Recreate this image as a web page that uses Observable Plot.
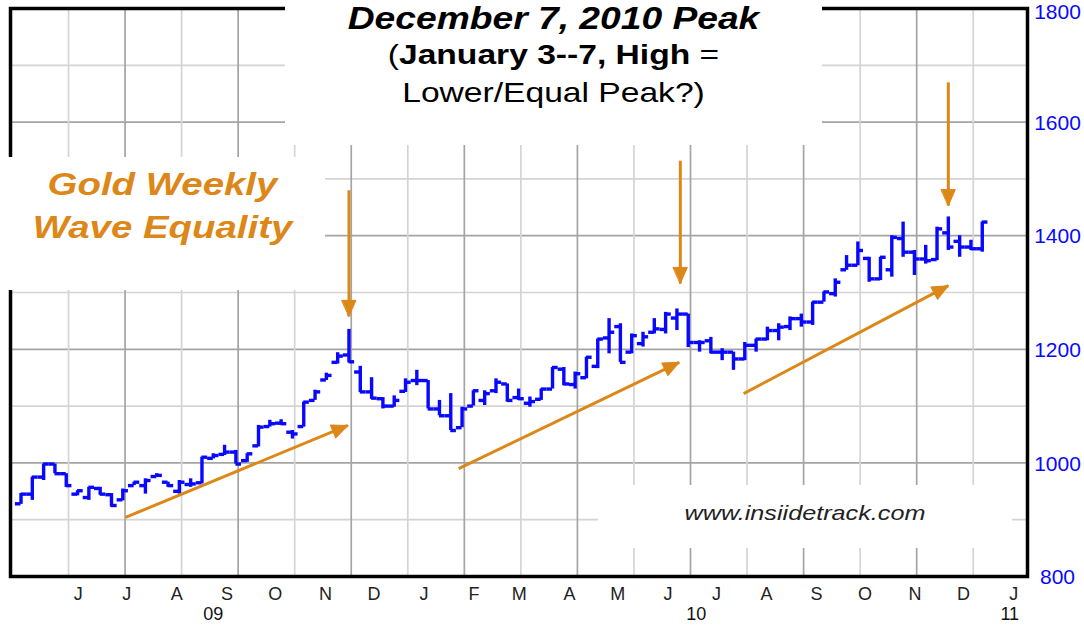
<!DOCTYPE html>
<html><head><meta charset="utf-8">
<script src="https://cdn.jsdelivr.net/npm/d3@7"></script>
<script src="https://cdn.jsdelivr.net/npm/@observablehq/plot@0.6"></script>
<style>
html,body{margin:0;padding:0;background:#fff;}
#wrap{position:relative;width:1084px;height:628px;overflow:hidden;font-family:"Liberation Sans",Arial,sans-serif;}
.box{position:absolute;background:#fff;}
.line{position:absolute;left:0;right:0;text-align:center;white-space:nowrap;line-height:1;transform:scaleX(1.2);transform-origin:50% 50%;}
</style></head><body><div id="wrap"></div>
<script>
// ---- data (weekly gold bars, week starting Monday) ----
const startWeek = "2009-05-04";
const opens = [928,945,975,998,981,945,939,955,944,935,
  960,960,976,966,950,962,965,1008,1015,1019,
  1004,1030,1064,1070,1054,1064,1110,1146,1177,1190,
  1160,1125,1113,1100,1126,1145,1145,1095,1083,1062,
  1100,1110,1127,1139,1115,1105,1112,1130,1165,1138,
  1150,1170,1220,1240,1195,1210,1230,1235,1255,1262,
  1212,1215,1195,1195,1183,1207,1218,1233,1240,1254,
  1248,1283,1298,1340,1348,1360,1324,1340,1395,1371,
  1359,1358,1405,1390,1380,1377];
const highs = [946,975,998,998,981,951,957,957,946,954,
  966,972,981,966,969,972,1010,1016,1031,1022,
  1016,1066,1075,1076,1057,1107,1128,1158,1194,1235,
  1170,1150,1115,1118,1148,1163,1145,1110,1122,1098,
  1127,1127,1148,1139,1130,1116,1130,1168,1168,1160,
  1186,1218,1254,1245,1227,1230,1254,1265,1271,1262,
  1215,1221,1201,1195,1212,1218,1239,1245,1257,1262,
  1283,1301,1324,1365,1389,1362,1362,1400,1424,1374,
  1383,1415,1433,1400,1392,1424];
const lows = [927,934,969,981,957,942,934,943,922,933,
  960,945,975,957,945,957,963,1007,1013,998,
  1001,1028,1063,1066,1042,1063,1110,1145,1174,1176,
  1124,1112,1095,1098,1124,1136,1095,1083,1057,1062,
  1100,1101,1122,1107,1110,1098,1110,1130,1136,1130,
  1148,1166,1192,1177,1192,1204,1227,1227,1233,1203,
  1195,1192,1180,1163,1180,1195,1215,1215,1233,1239,
  1242,1283,1292,1339,1347,1318,1321,1327,1362,1330,
  1350,1356,1374,1362,1374,1371];
const closes = [945,975,998,981,960,951,957,945,925,951,
  966,969,978,960,966,963,1010,1013,1019,998,
  1016,1063,1069,1069,1051,1107,1125,1154,1188,1178,
  1125,1114,1100,1110,1142,1145,1095,1083,1057,1095,
  1127,1122,1142,1110,1113,1108,1130,1168,1139,1157,
  1186,1218,1230,1177,1224,1222,1236,1262,1262,1212,
  1212,1195,1195,1183,1207,1218,1233,1239,1254,1248,
  1283,1301,1318,1348,1374,1324,1362,1397,1371,1359,
  1356,1412,1380,1380,1377,1424];

const monthTicks = ["2009-06-01","2009-07-01","2009-08-01","2009-09-01","2009-10-01","2009-11-01","2009-12-01",
  "2010-01-01","2010-02-01","2010-03-01","2010-04-01","2010-05-01","2010-06-01","2010-07-01","2010-08-01",
  "2010-09-01","2010-10-01","2010-11-01","2010-12-01","2011-01-01"];
const monthLabels = ["J","J","A","S","O","N","D","J","F","M","A","M","J","J","A","S","O","N","D","J"];
const yearTicks = ["2009-08-31","2010-06-26","2011-01-06"];
const yearLabels = ["09","10","11"];
const priceTicks = [800,1000,1200,1400,1600,1800];
const gridPricesDark = [1000,1200,1400,1600];
const gridPricesLight = [900,1100,1300,1500,1700];
const gridWeeksDark = [9,19,29,39,49,59,69,79];
const gridWeeksLight = [4,14,24,34,44,54,64,74,84];

// annotation arrows (week index, price)
const arrowFromWeek  = [29, 58.3, 82, 9.24, 38.7, 63.9];
const arrowFromPrice = [1480, 1532, 1670, 904, 990, 1122];
const arrowToWeek    = [29, 58.3, 82, 28.9, 58.2, 82];
const arrowToPrice   = [1258, 1316, 1453, 1066, 1177, 1312];

// ---- build ----
const DAY = 864e5;
const t0 = Date.parse(startWeek + "T00:00:00Z");
const xOf = w => new Date(t0 + w * 7 * DAY);
const half = 3.5 * DAY;
const bars = opens.map((o, i) => ({date: xOf(i), open: o, high: highs[i], low: lows[i], close: closes[i]}));

const W = 1084, H = 628, mL = 10, mR = 57, mT = 8, mB = 52;
const xDomain = [xOf(-0.93), xOf(89.0)];
const yDomain = [800, 1800];
const xs = d3.scaleUtc(xDomain, [mL, W - mR]);
const ys = d3.scaleLinear(yDomain, [H - mB, mT]);

const arrows = arrowFromWeek.map((w, i) => {
  const a = {x1: xOf(w), y1: arrowFromPrice[i], x2: xOf(arrowToWeek[i]), y2: arrowToPrice[i]};
  const dx = xs(a.x2) - xs(a.x1), dy = ys(a.y2) - ys(a.y1);
  a.angle = Math.atan2(dx, -dy) * 180 / Math.PI;
  return a;
});

const blue = "#0808ff";
const orange = "#dc8718";
const dark = "#a4a4a4", light = "#d4d4d4";
const tri = {draw(ctx, l, r) { ctx.moveTo(0, -l); ctx.lineTo(-r, 0); ctx.lineTo(r, 0); ctx.closePath(); }};
const font = "Liberation Sans, Arial, sans-serif";
const topTick = priceTicks[priceTicks.length - 1];

const chart = Plot.plot({
  width: W, height: H, marginLeft: mL, marginRight: mR, marginTop: mT, marginBottom: mB,
  x: {type: "utc", domain: xDomain, axis: null},
  y: {domain: yDomain, axis: null},
  style: {background: "#fff"},
  marks: [
    Plot.ruleY(gridPricesLight, {y: d => d, stroke: light, strokeWidth: 1.7}),
    Plot.ruleY(gridPricesDark, {y: d => d, stroke: dark, strokeWidth: 1.7}),
    Plot.ruleX(gridWeeksLight, {x: w => xOf(w + 0.2), stroke: light, strokeWidth: 1.7}),
    Plot.ruleX(gridWeeksDark, {x: w => xOf(w + 0.2), stroke: dark, strokeWidth: 1.7}),
    Plot.frame({stroke: "#000", strokeWidth: 3.5}),
    Plot.ruleX(bars, {x: "date", y1: "low", y2: "high", stroke: blue, strokeWidth: 3.4}),
    Plot.ruleY(bars, {y: "open", x1: d => new Date(+d.date - half), x2: "date", stroke: blue, strokeWidth: 3.4}),
    Plot.ruleY(bars, {y: "close", x1: "date", x2: d => new Date(+d.date + half), stroke: blue, strokeWidth: 3.4}),
    Plot.link(arrows, {x1: "x1", y1: "y1", x2: "x2", y2: "y2", stroke: orange, strokeWidth: 3}),
    Plot.vector(arrows, {x: "x2", y: "y2", rotate: "angle", length: 16, r: 7, anchor: "end", shape: tri, fill: orange, stroke: orange, strokeWidth: 1}),
    Plot.text(priceTicks.filter(d => d !== topTick), {y: d => d, text: d => String(d), frameAnchor: "right", dx: 30, dy: 1, textAnchor: "middle", fill: blue, fontSize: 21, fontFamily: font}),
    Plot.text([topTick], {y: d => d, text: d => String(d), frameAnchor: "right", dx: 30, dy: 4, textAnchor: "middle", fill: blue, fontSize: 21, fontFamily: font}),
    Plot.text(monthTicks, {x: d => new Date(d + "T00:00:00Z"), text: (d, i) => monthLabels[i], frameAnchor: "bottom", dy: 23, dx: 12, fill: "#222", fontSize: 18, fontFamily: font}),
    Plot.text(yearTicks, {x: d => new Date(d + "T00:00:00Z"), text: (d, i) => yearLabels[i], frameAnchor: "bottom", dy: 43, fill: "#111", fontSize: 18, fontFamily: font})
  ]
});
const wrap = document.getElementById("wrap");
wrap.append(chart);

function box(left, top, width, height, lines) {
  const b = document.createElement("div");
  b.className = "box";
  Object.assign(b.style, {left: left + "px", top: top + "px", width: width + "px", height: height + "px"});
  for (const l of lines) {
    const d = document.createElement("div");
    d.className = "line";
    d.innerHTML = l.html;
    Object.assign(d.style, {top: l.top + "px", fontSize: l.size + "px", fontWeight: l.weight || "normal", fontStyle: l.style || "normal", color: l.color || "#000"});
    b.append(d);
  }
  wrap.append(b);
}
box(285, 0, 537, 145, [
  {html: "December 7, 2010 Peak", top: 3, size: 31, weight: "bold", style: "italic"},
  {html: "(<b>January 3--7, High</b> =", top: 41, size: 28},
  {html: "Lower/Equal Peak?)", top: 79, size: 28}
]);
box(0, 157, 325, 133, [
  {html: "Gold Weekly", top: 11, size: 32, weight: "bold", style: "italic", color: orange},
  {html: "Wave Equality", top: 54, size: 32, weight: "bold", style: "italic", color: orange}
]);
box(598, 485, 414, 63, [
  {html: "www.insiidetrack.com", top: 17, size: 21, style: "italic", color: "#222"}
]);
</script></body></html>
